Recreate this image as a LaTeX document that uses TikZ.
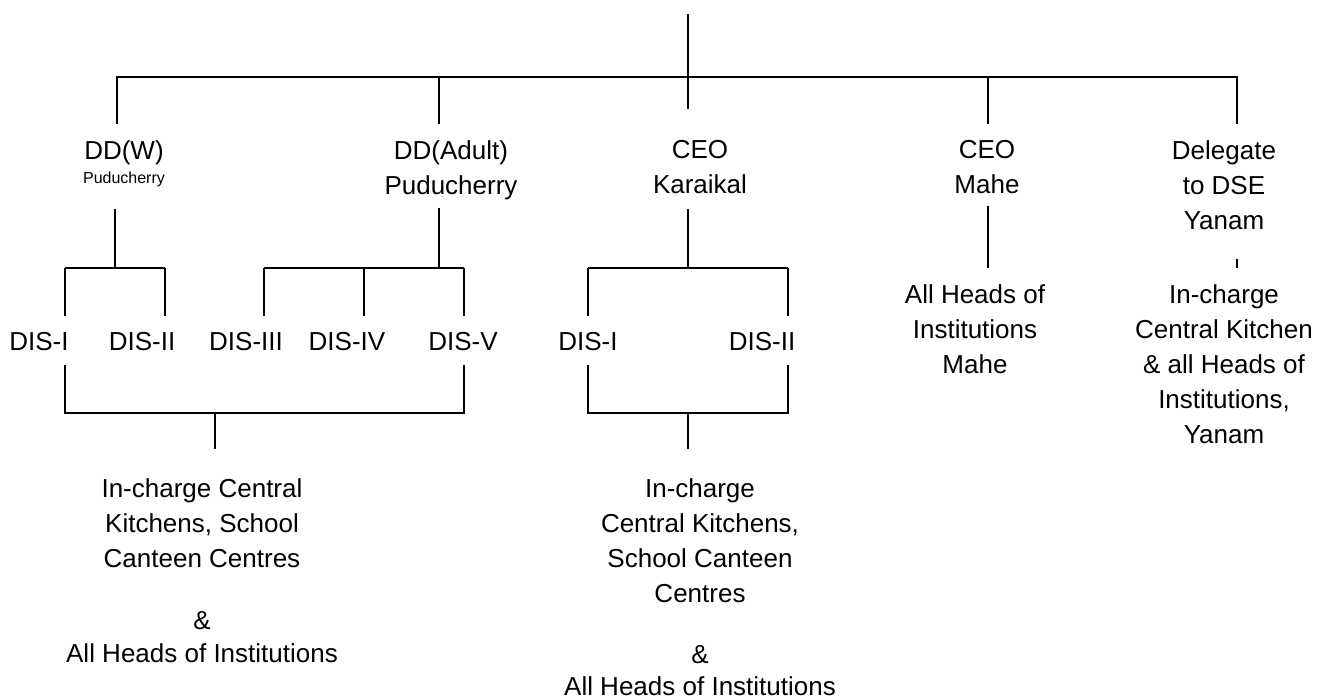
\documentclass[tikz,border=0pt]{standalone}
\usepackage{fontspec}
\setmainfont{Liberation Sans}

\tikzset{
  lbl/.style={align=center, inner sep=0pt, anchor=north, font=\fontsize{26}{35}\selectfont},
  sublbl/.style={inner sep=0pt, anchor=north, font=\fontsize{16}{19}\selectfont},
  link/.style={line width=1.5pt},
}

\begin{document}
\begin{tikzpicture}[x=1pt, y=-1pt]
	\useasboundingbox (0,0) rectangle (1318,700);

	% heads
	\node[lbl] (ddw) at (124,140) {DD(W)};
	\node[sublbl] (ddwsub) at (124,172) {Puducherry};
	\node[lbl] (dda) at (451,140) {DD(Adult)\\Puducherry};
	\node[lbl] (ceok) at (700,140) {CEO\\Karaikal};
	\node[lbl] (ceom) at (987,140) {CEO\\Mahe};
	\node[lbl] (dse) at (1224,140) {Delegate\\to DSE\\Yanam};

	% top bar
	\coordinate (top) at (688,14);
	\coordinate (hub) at (688,77);
	\coordinate (sw) at (117,124);
	\coordinate (sa) at (439,124);
	\coordinate (sk) at (688,109);
	\coordinate (sm) at (988,124);
	\coordinate (sy) at (1237,124);
	\draw[link] (top) -- (sk);
	\draw[link] (sw) |- (hub) -| (sy);
	\draw[link] (sa |- hub) -- (sa);
	\draw[link] (sm |- hub) -- (sm);

	% inspectors
	\foreach \lx/\tx/\t/\n in {65/39/DIS-I/1, 165/142/DIS-II/2, 264/246/DIS-III/3, 364/347/DIS-IV/4, 464/463/DIS-V/5, 588/588/DIS-I/6, 788/762/DIS-II/7} {
		\node[lbl] (dis\n) at (\tx,332) {\t};
		\coordinate (u\n) at (\lx,268);
		\coordinate (v\n) at (\lx,316);
		\coordinate (b\n) at (\lx,365);
		\draw[link] (u\n) -- (v\n);
	}

	\coordinate (ww) at (115,209);
	\coordinate (wa) at (439,208);
	\coordinate (wk) at (688,209);
	\coordinate (wm) at (988,206);
	\coordinate (wy) at (1237,259);
	\draw[link] (ww) -- (ww |- u1);
	\draw[link] (u1) -- (u2);
	\draw[link] (wa) -- (wa |- u3);
	\draw[link] (u3) -- (u5);
	\draw[link] (wk) -- (wk |- u6);
	\draw[link] (u6) -- (u7);
	\draw[link] (wm) -- (wm |- u6);
	\draw[link] (wy) -- (wy |- u6);

	% institutions
	\node[lbl] (mahe) at (975,284) {All Heads of\\Institutions\\Mahe};
	\node[lbl] (yanam) at (1224,284) {In-charge\\Central Kitchen\\\& all Heads of\\Institutions,\\Yanam};
	\node[lbl] (pdy) at (202,478) {In-charge Central\\Kitchens, School\\Canteen Centres\\[27pt]\&\\[-2pt]All Heads of Institutions};
	\node[lbl] (kkl) at (700,478) {In-charge\\Central Kitchens,\\School Canteen\\Centres\\[26pt]\&\\[-3pt]All Heads of Institutions};

	\coordinate (jl) at (215,413);
	\coordinate (fl) at (215,449);
	\coordinate (jk) at (688,413);
	\coordinate (fk) at (688,449);
	\draw[link] (b1) |- (jl) -| (b5);
	\draw[link] (jl) -- (fl);
	\draw[link] (b6) |- (jk) -| (b7);
	\draw[link] (jk) -- (fk);
\end{tikzpicture}
\end{document}
